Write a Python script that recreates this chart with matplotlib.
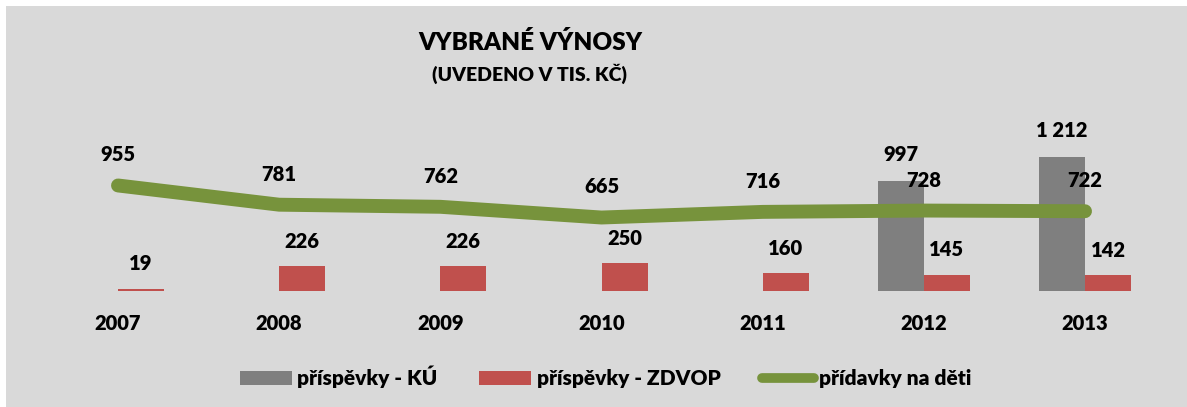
import numpy as np
import matplotlib.pyplot as plt
from matplotlib.patches import Rectangle

plt.rcParams['font.family'] = ['Lato', 'DejaVu Sans']
plt.rcParams['font.weight'] = 'bold'

#======================================== data ========================================
years = ['2007', '2008', '2009', '2010', '2011', '2012', '2013']
ku = [0, 0, 0, 0, 0, 997, 1212]          # příspěvky - KÚ
zdvop = [19, 226, 226, 250, 160, 145, 142]  # příspěvky - ZDVOP
pridavky = [955, 781, 762, 665, 716, 728, 722]  # přídavky na děti

labels = ["příspěvky - KÚ", "příspěvky - ZDVOP", "přídavky na děti"]
c_ku, c_zd, c_pr = "#7f7f7f", "#c0504d", "#77933c"

def fmt(v):
    return "{:,}".format(v).replace(",", " ")

#======================================== plot ========================================
W, H = 1187, 407
fig = plt.figure(figsize=(W/100, H/100), dpi=100, facecolor='white')
ax = fig.add_axes([0, 0, 1, 1])
ax.set_facecolor('none')
ax.add_patch(Rectangle((6/W, 0), 1, (H-6)/H, transform=fig.transFigure,
                       facecolor='#d9d9d9', edgecolor='none', zorder=0))

# pixel mapping: category i -> 118 + 161.17*i ; baseline y=291 from top, 0.1105 px/unit
dx, x0 = 161.17, 118
ax.set_xlim(-x0/dx, (W-x0)/dx)
sy, base = 0.1105, H - 291
ax.set_ylim(-base/sy, (H-base)/sy)
ax.axis('off')

x = np.arange(len(years))
w = 46/dx
b1 = ax.bar(x - w/2, ku, w, color=c_ku, label=labels[0], zorder=2)
b2 = ax.bar(x + w/2, zdvop, w, color=c_zd, label=labels[1], zorder=2)
l1, = ax.plot(x, pridavky, color=c_pr, lw=10, solid_capstyle='round',
              solid_joinstyle='round', label=labels[2], zorder=3)

size, wt = 14.5, 'heavy'
y_year = (H - 323 - base)/sy   # year labels sit at y=323 px from top
for i in range(len(years)):
    if ku[i] > 0:
        ax.annotate(fmt(ku[i]), (x[i] - w/2, ku[i]), xytext=(0, 19), textcoords='offset points',
                    ha='center', va='center', fontsize=size, fontweight=wt)
    ax.annotate(fmt(zdvop[i]), (x[i] + w/2, zdvop[i]), xytext=(0, 18), textcoords='offset points',
                ha='center', va='center', fontsize=size, fontweight=wt)
    ax.annotate(fmt(pridavky[i]), (x[i], pridavky[i]), xytext=(0, 22), textcoords='offset points',
                ha='center', va='center', fontsize=size, fontweight=wt, zorder=4)
    ax.text(x[i], y_year, years[i], ha='center', va='center',
            fontsize=size, fontweight=wt)

fig.text(530/W, 1 - 43/H, "VYBRANÉ VÝNOSY", ha='center', va='center',
         fontsize=17.5, fontweight=wt)
fig.text(530/W, 1 - 74/H, "(UVEDENO V TIS. KČ)", ha='center', va='center',
         fontsize=14, fontweight=wt)

leg = ax.legend(handles=[b1, b2, l1], loc='center', bbox_to_anchor=(606/W, 1 - 377/H),
                ncol=3, frameon=False, fontsize=15, handlelength=2.5, handleheight=0.67,
                handletextpad=0.25, columnspacing=2.0, borderpad=0, borderaxespad=0)
for t in leg.get_texts():
    t.set_fontweight(wt)
for ln in leg.get_lines():
    ln.set_linewidth(7)
    ln.set_solid_capstyle('round')

fig.savefig("out.png", dpi=100)
